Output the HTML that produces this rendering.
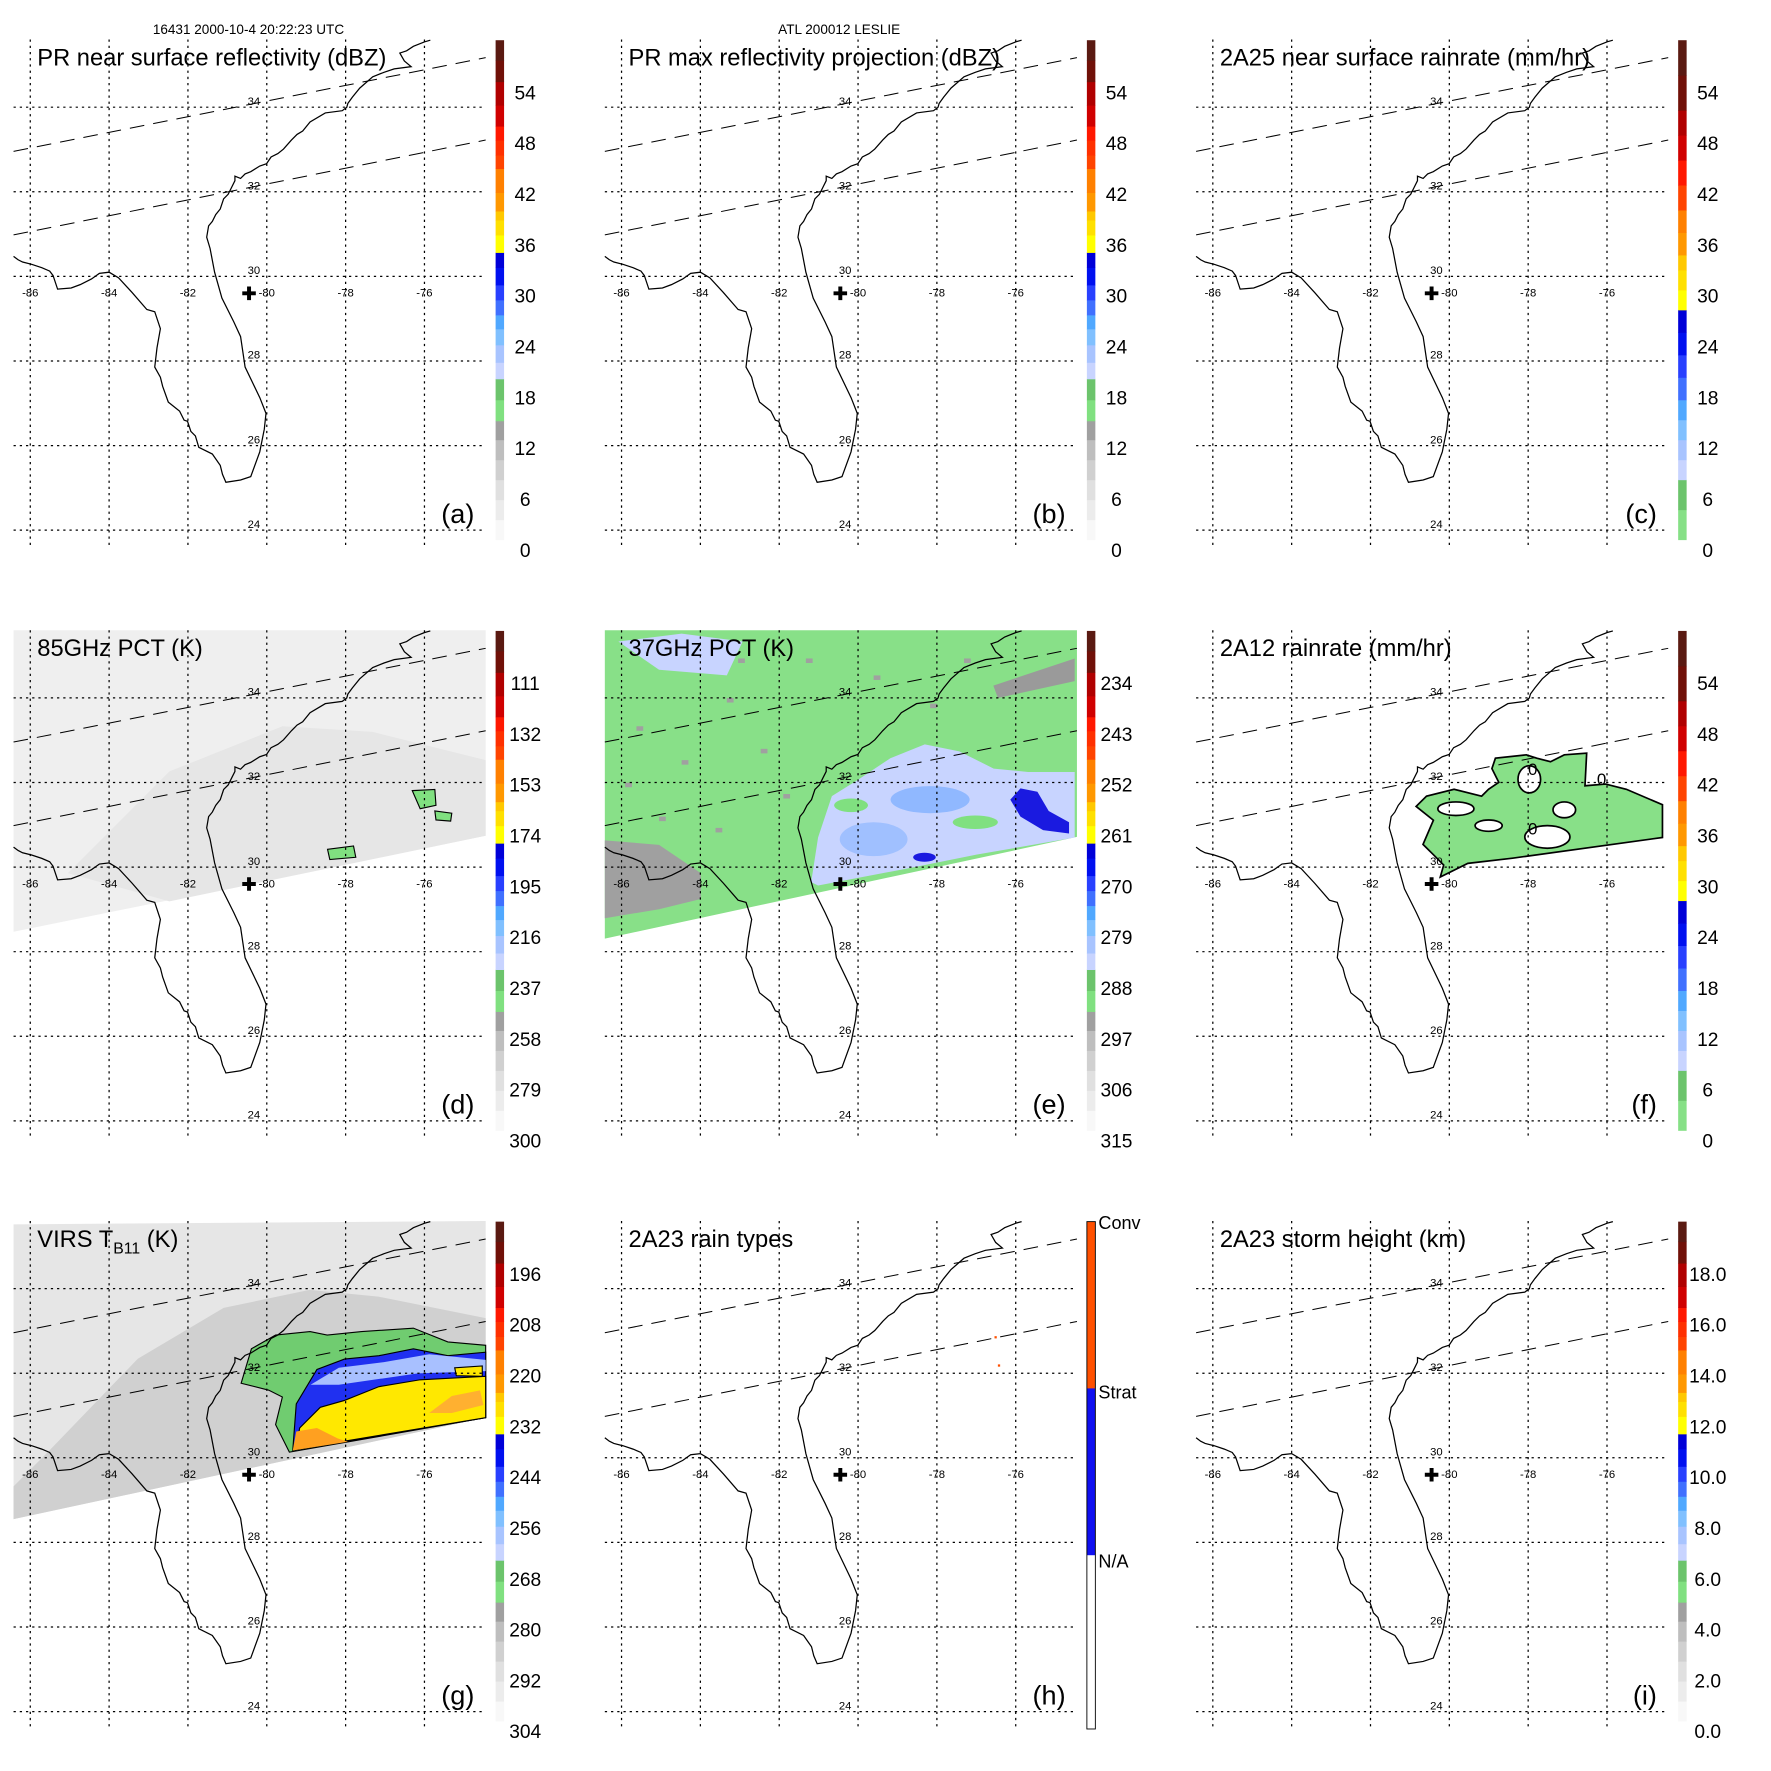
<!DOCTYPE html>
<html><head><meta charset="utf-8"><style>
html,body{margin:0;padding:0;background:#fff;}
svg{display:block;font-family:"Liberation Sans",Arial,sans-serif;}
</style></head><body>
<svg id="fig" xmlns="http://www.w3.org/2000/svg" width="1771" height="1771" viewBox="0 0 1568 1568">
<rect x="0" y="0" width="1568" height="1568" fill="#fff"/>
<text x="220" y="30" font-size="12" text-anchor="middle">16431 2000-10-4 20:22:23 UTC</text>
<text x="743" y="30" font-size="12" text-anchor="middle">ATL 200012 LESLIE</text>
</svg>
<script>
// ---- data arrays ----
const lonTicks = [-86, -84, -82, -80, -78, -76];
const latTicks = [34, 32, 30, 28, 26, 24];
const ticksA = ['54','48','42','36','30','24','18','12','6','0'];
const ticksD = ['111','132','153','174','195','216','237','258','279','300'];
const ticksE = ['234','243','252','261','270','279','288','297','306','315'];
const ticksG = ['196','208','220','232','244','256','268','280','292','304'];
const ticksI = ['18.0','16.0','14.0','12.0','10.0','8.0','6.0','4.0','2.0','0.0'];
const rainTypes = ['Conv','Strat','N/A'];
const centerLon = -80.45, centerLat = 29.6;

// palettes: [top fraction, color]
const stdPal = [[0.04,'#f8f8f8'],[0.08,'#ececec'],[0.12,'#e0e0e0'],[0.16,'#d0d0d0'],[0.2,'#bebebe'],[0.238,'#a0a0a0'],
 [0.28,'#80e080'],[0.322,'#6cc46c'],[0.355,'#c8d4ff'],[0.39,'#a8c4ff'],[0.422,'#80c0ff'],
 [0.45,'#50a8ff'],[0.48,'#4070ff'],[0.51,'#2840ff'],[0.545,'#0010f0'],[0.575,'#0000d8'],
 [0.61,'#ffff00'],[0.64,'#ffe000'],[0.658,'#ffc800'],[0.695,'#ff9800'],[0.743,'#ff8000'],
 [0.77,'#ff4400'],[0.8,'#ff3000'],[0.828,'#ff1800'],[0.87,'#d00000'],[0.917,'#b00000'],[0.96,'#701008'],[1,'#5a1a12']];
const rainPal = [[0.06,'#86e086'],[0.12,'#6cc46c'],[0.16,'#c8d4ff'],[0.2,'#a8c4ff'],[0.24,'#80c0ff'],[0.28,'#50a8ff'],
 [0.325,'#4070ff'],[0.37,'#2840ff'],[0.415,'#0010f0'],[0.46,'#0000d8'],[0.5,'#ffff00'],[0.54,'#ffe000'],[0.57,'#ffc800'],
 [0.615,'#ff9800'],[0.66,'#ff8000'],[0.71,'#ff4400'],[0.76,'#ff1800'],[0.81,'#d00000'],[0.86,'#b00000'],[0.93,'#701008'],[1,'#5a1a12']];
const typePal = [[0.333,'#ffffff'],[0.667,'#1010f0'],[1,'#ff5000']];

// geography (panel-local pixel geometry)
const coast = [[12,227],[16,230],[20,232],[28,234],[37,237],[44,240],[47,244],[51,256],[63,255],[71,252],[81,247],[88,242],[96.6,241],[105,246],[117,259],[130,274],[137,276],[142,291],[139,308],[137,325],[142,334],[144,342],[149,356],[159,364],[163,372],[166,373],[169,382],[173,386],[176,396],[188,402],[195,412],[197,420],[200,427],[213,425],[222,422],[230,400],[234,380],[235.5,366],[230,352],[217,325],[213,298],[207,285],[196.5,264],[190,241],[186,220],[183,210],[184.7,200],[188,196],[191,190],[195,185],[198,176],[202,172],[205,166],[208,160],[208,156],[213,158],[217,154],[222,152],[230,147],[236,145],[240,139],[246,136],[251,132],[258,124],[263,119],[268,116],[274.5,108],[288,100],[303,98],[307,95],[308,91.5],[312,86],[318.5,78],[330,68],[340,64],[349,61],[364,59],[358,54],[354,47],[360,45],[366,41],[376,37],[381,35.6]];

// projection
function lonX(lon){ return 236.2 + (lon + 80) * 34.9; }
function latY(lat){ return 244.7 - (lat - 30) * 37.45; }
const X0 = 12, X1 = 430, Y0 = 35, Y1 = 486;
const CB = {x:438.8, w:7.5, y0:35.6, y1:477.8};
const NS = 'http://www.w3.org/2000/svg';
const svg = document.getElementById('fig');

function mk(tag, attrs, parent){
  const e = document.createElementNS(NS, tag);
  for (const k in attrs) e.setAttribute(k, attrs[k]);
  (parent || svg).appendChild(e);
  return e;
}
function pts(a){ return a.map(p => p.join(',')).join(' '); }

const panels = [
 {id:'a', col:0,row:0, title:'PR near surface reflectivity (dBZ)', pal:stdPal, ticks:ticksA},
 {id:'b', col:1,row:0, title:'PR max reflectivity projection (dBZ)', pal:stdPal, ticks:ticksA},
 {id:'c', col:2,row:0, title:'2A25 near surface rainrate (mm/hr)', pal:rainPal, ticks:ticksA},
 {id:'d', col:0,row:1, title:'85GHz PCT (K)', pal:stdPal, ticks:ticksD},
 {id:'e', col:1,row:1, title:'37GHz PCT (K)', pal:stdPal, ticks:ticksE},
 {id:'f', col:2,row:1, title:'2A12 rainrate (mm/hr)', pal:rainPal, ticks:ticksA},
 {id:'g', col:0,row:2, title:'VIRS', pal:stdPal, ticks:ticksG},
 {id:'h', col:1,row:2, title:'2A23 rain types', pal:typePal, ticks:null},
 {id:'i', col:2,row:2, title:'2A23 storm height (km)', pal:stdPal, ticks:ticksI}
];

function drawData(p, g){
  if (p.id === 'd'){
    const s = mk('polygon',{points:pts([[12,35],[430,35],[430,217],[12,302]]),fill:'#efefef'},g);
    
    
    mk('polygon',{points:pts([[60,250],[150,160],[250,120],[330,125],[430,150],[430,217],[150,275]]),fill:'#e6e6e6'},g);
    [[[365,177],[385,176],[386,190],[372,193]],[[385,195],[400,197],[399,204],[386,203]],[[290,229],[313,226],[315,236],[292,238]]].forEach(q=>{
      const c = mk('polygon',{points:pts(q),fill:'#80e080',stroke:'#000','stroke-width':1},g);
      
      
    });
  }
  if (p.id === 'e'){
    const s = mk('polygon',{points:pts([[12,35],[430,35],[430,218],[12,308]]),fill:'#88e088'},g);
    
    
    mk('polygon',{points:pts([[356,84],[428,60],[428,80],[360,95]]),fill:'#9a9a9a'},g);
    mk('polygon',{points:pts([[12,221],[60,225],[97,250],[97,273],[60,282],[12,290]]),fill:'#a0a0a0'},g);
    [[40,120],[80,150],[30,170],[120,95],[150,140],[170,180],[60,200],[110,210],[250,75],[190,60],[330,60],[300,100],[130,60]].forEach(q=>{
      mk('rect',{x:q[0],y:q[1],width:6,height:4,fill:'#a0a0a0'},g);
    });
    mk('polygon',{points:pts([[24,45],[80,38],[134,45],[120,75],[60,70]]),fill:'#c8d4ff'},g);
    mk('polygon',{points:pts([[194.7,258],[200.8,218.5],[213,181.9],[237.4,166.6],[264.8,148.3],[295.3,136.1],[325.8,142.2],[356.3,157.5],[386.8,160.5],[428,160.5],[428,218.5],[341,233.7],[280,245.9],[200.8,261]]),fill:'#c8d4ff'},g);
    mk('ellipse',{cx:300,cy:185,rx:35,ry:12,fill:'#90b8ff'},g);
    mk('ellipse',{cx:250,cy:220,rx:30,ry:15,fill:'#a0c0ff'},g);
    mk('ellipse',{cx:230,cy:190,rx:15,ry:6,fill:'#80e080'},g);
    mk('ellipse',{cx:340,cy:205,rx:20,ry:6,fill:'#80e080'},g);
    const d = mk('polygon',{points:pts([[371,185],[380,175],[395,178],[405,195],[423,205],[423,215],[400,212],[380,200]]),fill:'#1a1ae0'},g);
    
    
    mk('ellipse',{cx:295,cy:236,rx:10,ry:4,fill:'#1a1ae0'},g);
  }
  if (p.id === 'f'){
    const s = mk('polygon',{points:pts([[228.2,253.5],[252.6,241.4],[292.2,236.8],[424.9,218.5],[424.9,189.5],[392.9,175.8],[374.6,171.2],[356.3,172.7],[357.8,143.8],[338,145.3],[325.8,151.4],[313.6,148.3],[304.4,145.3],[277,148.3],[273.9,157.5],[280,169.7],[270.9,175.8],[264.8,181.9],[240.4,175.8],[216,181.9],[206.8,191],[222.1,203.2],[212.9,224.6],[222.1,233.7],[231.2,242.9]]),fill:'#88e088',stroke:'#000','stroke-width':1.5},g);
    
    
    [[242,193,16,6],[271,208,12,5],[323,218,20,10],[307,167,10,12],[338,194,10,7]].forEach(h=>{
      const e = mk('ellipse',{cx:h[0],cy:h[1],rx:h[2],ry:h[3],fill:'#fff',stroke:'#000','stroke-width':1.5},g);
      
      
    });
    [[310,163],[371,172],[310,216]].forEach(q=>{
      const t = mk('text',{x:q[0],y:q[1],'font-size':15,'text-anchor':'middle'},g);
      t.textContent = '0';
      
      
    });
  }
  if (p.id === 'g'){
    const s = mk('polygon',{points:pts([[12,38],[430,35],[430,209],[12,299]]),fill:'#e6e6e6'},g);
    
    
    mk('polygon',{points:pts([[42,240],[122,157],[198,112],[274,96],[335,102],[430,121],[430,209],[12,299],[12,270]]),fill:'#d0d0d0'},g);
    const gr = mk('polygon',{points:pts([[256.2,239.7],[244,215.3],[250,190.9],[237.9,184.8],[213.5,178.7],[222.6,148.2],[244,136],[274.5,132.9],[289.7,136],[320.2,132.9],[366,129.9],[396.5,142.1],[430,145.1],[430,209.2]]),fill:'#70cc70',stroke:'#000','stroke-width':1},g);
    
    
    const bl = mk('polygon',{points:pts([[259.2,238.2],[262.3,197],[280.6,166.5],[305,157.3],[335.5,154.3],[366,148.2],[396.5,154.3],[430,151.2],[430,209.2]]),fill:'#2030f0',stroke:'#000','stroke-width':1},g);
    
    
    mk('polygon',{points:pts([[275,180],[300,165],[340,160],[380,153],[430,158],[430,168],[370,170],[300,180]]),fill:'#a8c0ff'},g);
    const y = mk('polygon',{points:pts([[262.3,236.6],[265.3,218.3],[283.6,200],[305,193.9],[335.5,181.7],[372.1,175.6],[430,172.6],[430,209.2],[311,229]]),fill:'#ffe800',stroke:'#000','stroke-width':1},g);
    
    
    mk('polygon',{points:pts([[259.2,238.2],[262.3,221.4],[280.6,218.3],[298.9,227.5],[308,230.5]]),fill:'#ffa020'},g);
    mk('polygon',{points:pts([[380,205],[400,190],[425,185],[428,198],[400,205]]),fill:'#ffb030'},g);
    mk('polygon',{points:pts([[402.6,165],[427,163.4],[427,172.6],[404,172]]),fill:'#ffe800',stroke:'#000','stroke-width':1},g);
  }
  if (p.id === 'h'){
    [[357,137],[360,162]].forEach(q=>{ mk('rect',{x:q[0],y:q[1],width:2,height:2,fill:'#ff5000'},g); });
  }
}

panels.forEach(p => {
  const ox = p.col * 523.5, oy = p.row * 523;
  const g = mk('g',{transform:`translate(${ox},${oy})`});
  
  
  const map = mk('g',{},g);
  
  
  drawData(p, map);
  // grid
  lonTicks.forEach(lon => {
    const l = mk('line',{x1:lonX(lon),x2:lonX(lon),y1:Y0,y2:Y1,stroke:'#000','stroke-width':1.1,'stroke-dasharray':'2,3.5'},map);
    
    
    const t = mk('text',{x:lonX(lon),y:latY(30)+18,'font-size':10,'text-anchor':'middle'},map);
    t.textContent = String(lon);
    
    
  });
  latTicks.forEach(lat => {
    const l = mk('line',{x1:X0,x2:X1,y1:latY(lat),y2:latY(lat),stroke:'#000','stroke-width':1.1,'stroke-dasharray':'2,3.5'},map);
    
    
    const t = mk('text',{x:lonX(-80)-17,y:latY(lat)-2,'font-size':10},map);
    t.textContent = String(lat);
    
    
  });
  const c = mk('polyline',{points:pts(coast),fill:'none',stroke:'#000','stroke-width':1.1},map);
  
  
  [[[12,134],[430,51]],[[12,208],[430,124]]].forEach(s=>{
    const l = mk('line',{x1:s[0][0],y1:s[0][1],x2:s[1][0],y2:s[1][1],stroke:'#000','stroke-width':0.9,'stroke-dasharray':'13,8'},map);
    
    
  });
  const cx = lonX(centerLon), cy = latY(centerLat);
  const cr = mk('path',{d:`M${cx-6},${cy}H${cx+6}M${cx},${cy-6}V${cy+6}`,stroke:'#000','stroke-width':3.5},map);
  
  
  // title
  const t = mk('text',{x:33,y:58,'font-size':21},g);
  if (p.id === 'g'){
    t.textContent = 'VIRS T';
    const sub = mk('tspan',{'font-size':14,dy:6},t);
    sub.textContent = 'B11';
    const rest = mk('tspan',{dy:-6},t);
    rest.textContent = ' (K)';
  } else {
    t.textContent = p.title;
  }
  
  
  const lt = mk('text',{x:420,y:463,'font-size':24,'text-anchor':'end'},g);
  lt.textContent = '(' + p.id + ')';
  
  
  // colorbar
  const cb = mk('g',{},g);
  
  
  const H = CB.y1 - CB.y0;
  let prev = 0;
  p.pal.forEach(s => {
    const yTop = CB.y1 - s[0] * H, yBot = CB.y1 - prev * H;
    const r = mk('rect',{x:CB.x,y:yTop,width:CB.w,height:yBot - yTop + 0.4,fill:s[1]},cb);
    
    
    prev = s[0];
  });
  if (p.ticks){
    p.ticks.forEach((lab, i) => {
      const yy = 82 + i * 45 + 6;
      const tx = mk('text',{x:465,y:yy,'font-size':17,'text-anchor':'middle'},cb);
      tx.textContent = lab;
      
      
    });
  } else {
    mk('rect',{x:CB.x,y:CB.y0,width:CB.w,height:H + 7,fill:'none',stroke:'#000','stroke-width':0.8},cb);
    rainTypes.forEach((lab, i) => {
      const tx = mk('text',{x:449,y:42 + i * 150,'font-size':16},cb);
      tx.textContent = lab;
      
      
    });
  }
});
</script>
</body></html>
